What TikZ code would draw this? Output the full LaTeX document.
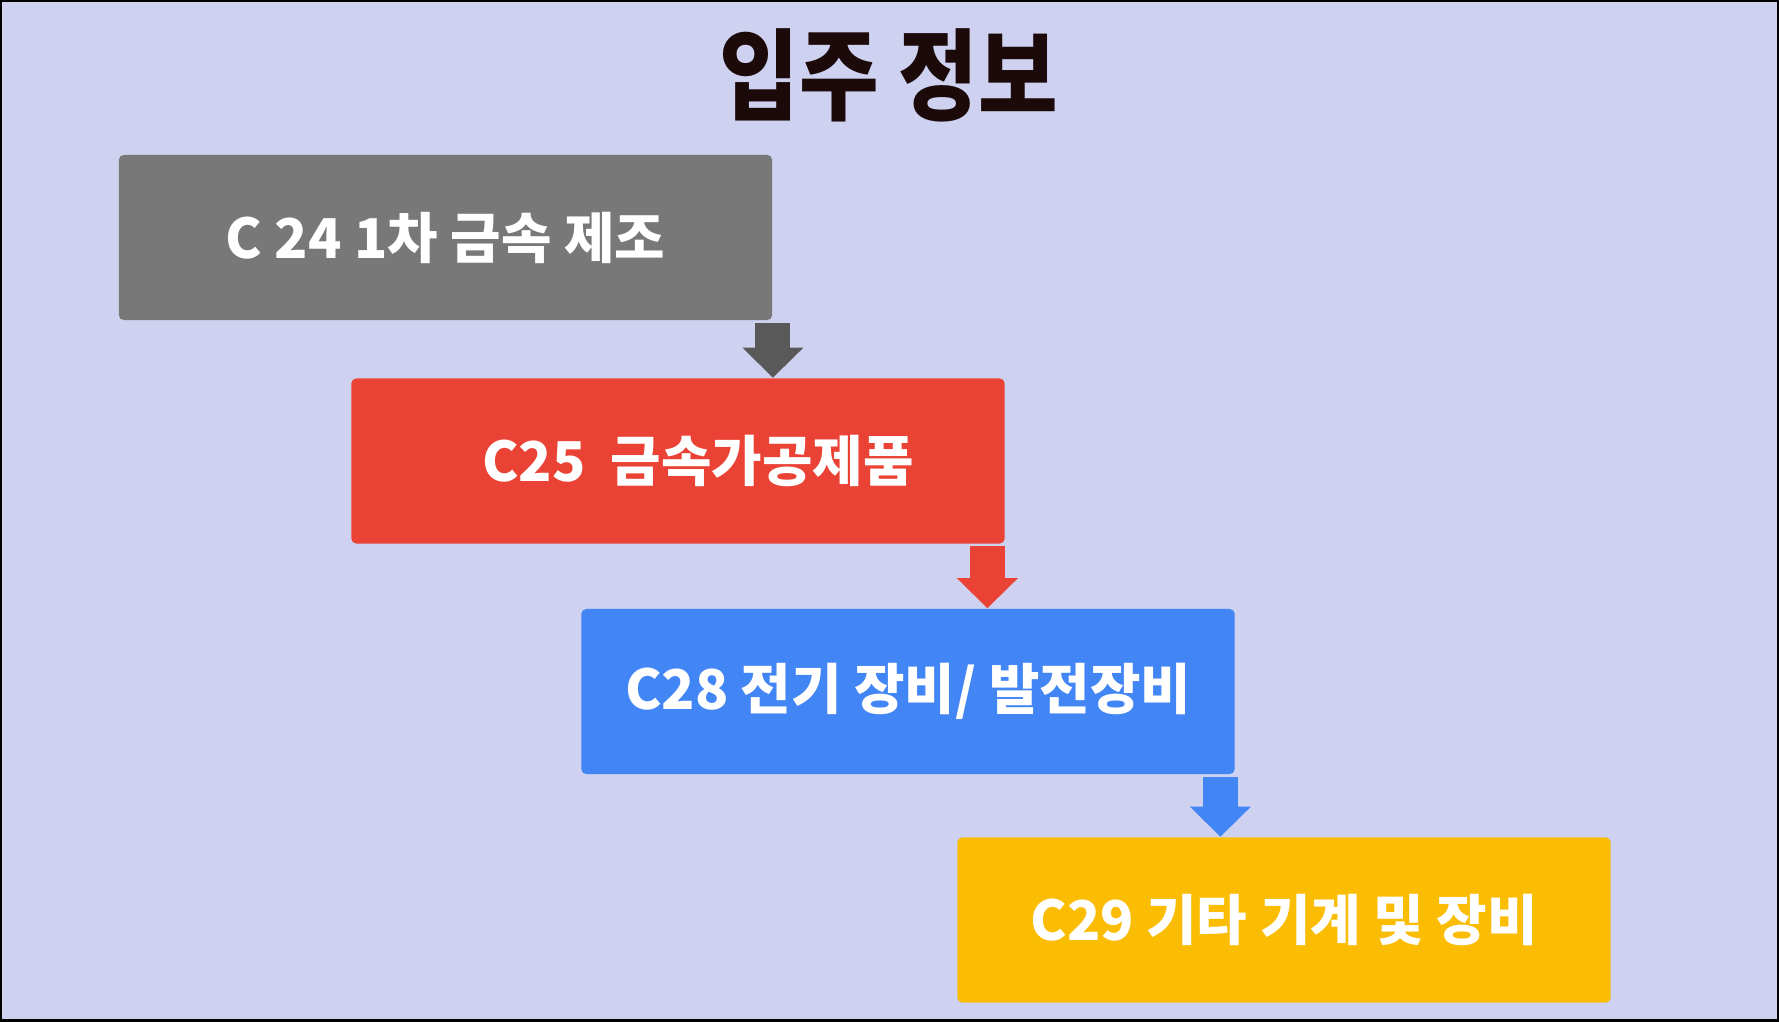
\documentclass[tikz,border=0pt]{standalone}
\usepackage{fontspec}
\usepackage{tikz}
\usetikzlibrary{arrows.meta}
\newfontfamily\kofont{Noto Sans CJK KR}
\definecolor{bgcol}{HTML}{CED2F0}
\definecolor{titlecol}{HTML}{1C0A0A}
\definecolor{graybox}{HTML}{787878}
\definecolor{redbox}{HTML}{EA4335}
\definecolor{bluebox}{HTML}{4285F4}
\definecolor{yellowbox}{HTML}{FBBC04}
\definecolor{grayarrow}{HTML}{595959}

\begin{document}
\begin{tikzpicture}[x=0.01cm,y=-0.01cm,
	stagebox/.style={rectangle, rounded corners=0.05cm, minimum width=6.53cm, minimum height=1.65cm, inner sep=0pt, text=white, font=\kofont\bfseries\fontsize{15.6}{18}\selectfont},
	stagearrow/.style={draw=#1, line width=0.35cm, shorten <=0.02cm, -{Triangle[width=0.59cm,length=0.30cm]}}]
			\useasboundingbox (0,0) rectangle (1779,1021);
			\fill[bgcol] (0,0) rectangle (1779,1021);
			\draw[black, line width=0.04cm] (0,0) rectangle (1779,1021);
			
			\node[text=titlecol, yscale=1.15, font=\kofont\bfseries\fontsize{24.6}{28}\selectfont] (title) at (889,75) {입주 정보};
			
			\node[stagebox, fill=graybox] (c24) at (445.5,237.5) {C 24 1차 금속 제조};
			\node[stagebox, fill=redbox] (c25) at (678,461) {\hspace{0.4cm}C25\ \ 금속가공제품};
			\node[stagebox, fill=bluebox] (c28) at (908,691.5) {C28 전기 장비/ 발전장비};
			\node[stagebox, fill=yellowbox] (c29) at (1284,920) {C29 기타 기계 및 장비};
			
			\draw[stagearrow=grayarrow] (c24.south east) -- (c24.south east |- c25.north);
			\draw[stagearrow=redbox] ([xshift=-0.18cm]c25.south east) -- ([xshift=-0.18cm]c25.south east |- c28.north);
			\draw[stagearrow=bluebox] ([xshift=-0.15cm]c28.south east) -- ([xshift=-0.15cm]c28.south east |- c29.north);
		\end{tikzpicture}
\end{document}
